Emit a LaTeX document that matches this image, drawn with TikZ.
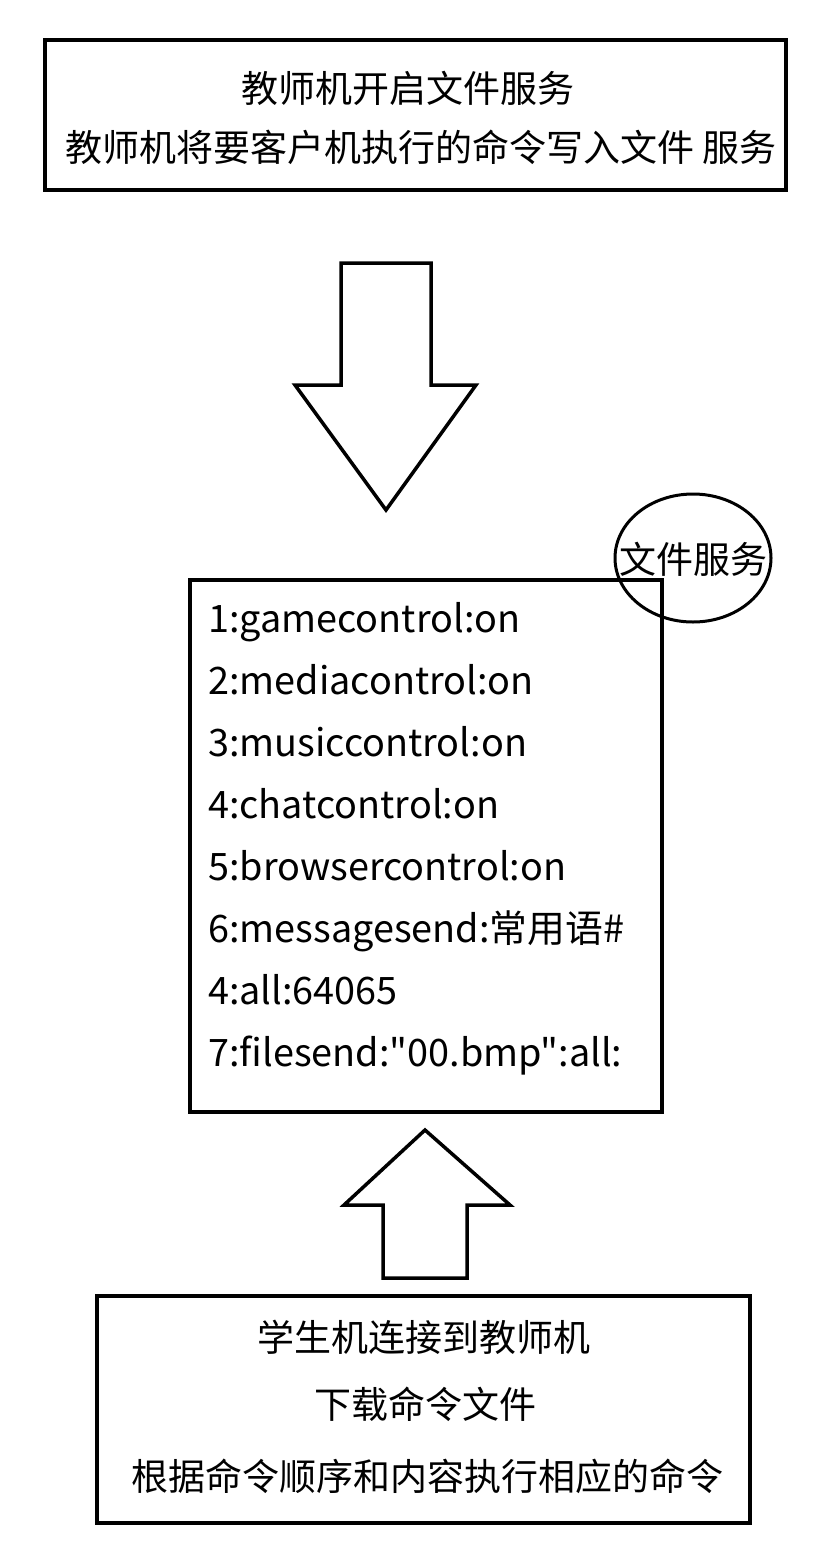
\documentclass[tikz,border=0pt]{standalone}
\usepackage{fontspec}
\newfontfamily\cjkf{Noto Sans CJK SC}
\begin{document}
\begin{tikzpicture}[x=1pt,y=-1pt,
  box/.style={draw,line width=3.8pt},
  blk/.style={draw,line width=3.5pt,line join=miter,fill=white},
  txt/.style={inner sep=0pt,font=\cjkf\fontsize{37}{40}\selectfont},
  lst/.style={inner sep=0pt,anchor=base west,font=\cjkf\fontsize{37.8}{40}\selectfont}]
\useasboundingbox (0,0) rectangle (820,1564);
% top box
\draw[box] (45,40) rectangle (786,190);
\node[txt] (t1) at (408,88) {教师机开启文件服务};
\node[txt] (t2) at (421,147) {教师机将要客户机执行的命令写入文件 服务};
% down arrow
\draw[blk] (341,263) -- (431,263) -- (431,385) -- (476,385) -- (386,510) -- (295,385) -- (341,385) -- cycle;
% middle box
\draw[box] (190,580) rectangle (662,1112);
\node[lst] (l1) at (208,632) {1:gamecontrol:on};
\node[lst] (l2) at (208,694) {2:mediacontrol:on};
\node[lst] (l3) at (208,756) {3:musiccontrol:on};
\node[lst] (l4) at (208,818) {4:chatcontrol:on};
\node[lst] (l5) at (208,880) {5:browsercontrol:on};
\node[lst] (l6) at (208,942) {6:messagesend:常用语\#};
\node[lst] (l7) at (208,1004) {4:all:64065};
\node[lst] (l8) at (208,1066) {7:filesend:"00.bmp":all:};
% ellipse
\draw[line width=3pt] (693,558) ellipse [x radius=78,y radius=64];
\node[txt] (fs) at (693,559) {文件服务};
% up arrow
\draw[blk] (383,1278) -- (383,1205) -- (344,1205) -- (425,1130) -- (510,1205) -- (467,1205) -- (467,1278) -- cycle;
% bottom box
\draw[box] (97,1296) rectangle (750,1523);
\node[txt] (b1) at (424,1337) {学生机连接到教师机};
\node[txt] (b2) at (425,1404) {下载命令文件};
\node[txt] (b3) at (427,1476) {根据命令顺序和内容执行相应的命令};
\end{tikzpicture}
\end{document}
